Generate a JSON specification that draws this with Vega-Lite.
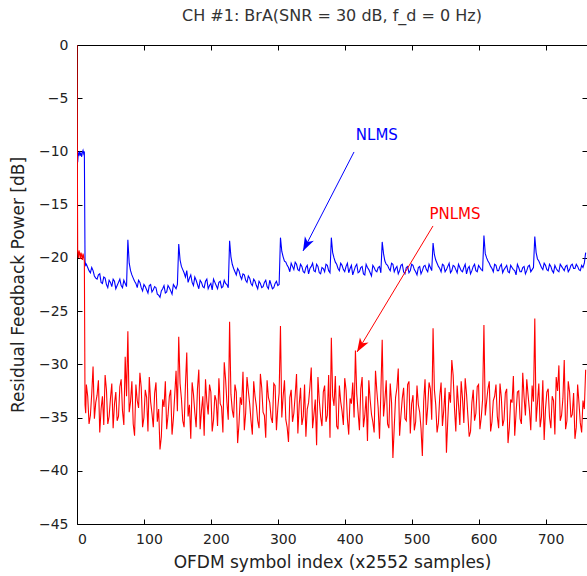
{
  "$schema": "https://vega.github.io/schema/vega-lite/v6.json",
  "width": 510,
  "height": 479,
  "autosize": {"type": "none"},
  "padding": {"left": 77, "top": 45, "right": 0, "bottom": 52},
  "title": {"text": "CH #1: BrA(SNR = 30 dB, f_d = 0 Hz)", "fontSize": 16, "fontWeight": "normal", "color": "#333333", "font": "DejaVu Sans", "offset": 14},
  "config": {
    "view": {"stroke": null},
    "font": "DejaVu Sans",
    "axis": {"grid": false, "domainColor": "#000000", "tickColor": "#000000", "labelColor": "#222222", "titleColor": "#222222", "labelFontSize": 14, "titleFontSize": 17, "titleFontWeight": "normal", "tickSize": -5, "domainWidth": 1, "tickWidth": 1, "labelFlush": false, "labelOverlap": false}
  },
  "datasets": {
    "curves": [
      {"x":0,"NLMS":-10.2,"PNLMS":0},{"x":1,"NLMS":-11.0,"PNLMS":-19.4},{"x":2,"NLMS":-10.1,"PNLMS":-20.0},{"x":3,"NLMS":-10.3,"PNLMS":-19.3},{"x":4,"NLMS":-10.0,"PNLMS":-19.6},{"x":5,"NLMS":-10.4,"PNLMS":-20.1},{"x":6,"NLMS":-10.2,"PNLMS":-19.5},{"x":7,"NLMS":-10.5,"PNLMS":-19.8},{"x":8,"NLMS":-10.1,"PNLMS":-20.2},{"x":9,"NLMS":-9.9,"PNLMS":-19.6},{"x":10,"NLMS":-10.2,"PNLMS":-19.9},{"x":11,"NLMS":-10.0,"PNLMS":-20.3},{"x":12,"NLMS":-20.3,"PNLMS":-33.8},{"x":13,"NLMS":-20.7,"PNLMS":-34.6},
      {"x":16,"NLMS":-20.9,"PNLMS":-33.0},{"x":20,"NLMS":-21.4,"PNLMS":-34.8},{"x":24,"NLMS":-21.2,"PNLMS":-30.2},{"x":28,"NLMS":-21.9,"PNLMS":-33.6},{"x":32,"NLMS":-21.6,"PNLMS":-31.5},{"x":36,"NLMS":-22.3,"PNLMS":-34.2},{"x":40,"NLMS":-21.8,"PNLMS":-35.7},{"x":44,"NLMS":-22.5,"PNLMS":-32.4},{"x":48,"NLMS":-22.1,"PNLMS":-34.9},{"x":52,"NLMS":-22.7,"PNLMS":-31.8},{"x":56,"NLMS":-22.2,"PNLMS":-33.7},{"x":60,"NLMS":-22.6,"PNLMS":-35.3},{"x":64,"NLMS":-22.0,"PNLMS":-32.1},{"x":68,"NLMS":-22.8,"PNLMS":-34.4},{"x":72,"NLMS":-22.4,"PNLMS":-29.3},
      {"x":76,"NLMS":-18.3,"PNLMS":-26.9},{"x":80,"NLMS":-21.2,"PNLMS":-33.5},{"x":84,"NLMS":-21.9,"PNLMS":-35.6},{"x":88,"NLMS":-22.4,"PNLMS":-31.9},{"x":92,"NLMS":-22.1,"PNLMS":-34.1},{"x":96,"NLMS":-22.8,"PNLMS":-32.2},{"x":100,"NLMS":-22.5,"PNLMS":-35.0},{"x":104,"NLMS":-23.0,"PNLMS":-33.1},{"x":108,"NLMS":-22.6,"PNLMS":-31.2},{"x":112,"NLMS":-23.2,"PNLMS":-34.6},{"x":116,"NLMS":-22.7,"PNLMS":-32.7},{"x":120,"NLMS":-23.4,"PNLMS":-35.4},{"x":124,"NLMS":-23.7,"PNLMS":-38.0},{"x":128,"NLMS":-22.9,"PNLMS":-33.3},{"x":132,"NLMS":-23.3,"PNLMS":-31.6},{"x":136,"NLMS":-22.6,"PNLMS":-34.8},{"x":140,"NLMS":-23.1,"PNLMS":-32.4},{"x":144,"NLMS":-22.5,"PNLMS":-35.1},{"x":148,"NLMS":-22.9,"PNLMS":-30.6},
      {"x":152,"NLMS":-18.7,"PNLMS":-27.4},{"x":156,"NLMS":-20.8,"PNLMS":-33.2},{"x":160,"NLMS":-21.4,"PNLMS":-35.9},{"x":164,"NLMS":-21.2,"PNLMS":-28.9},{"x":168,"NLMS":-21.9,"PNLMS":-33.8},{"x":172,"NLMS":-22.3,"PNLMS":-31.7},{"x":176,"NLMS":-21.8,"PNLMS":-34.5},{"x":180,"NLMS":-22.5,"PNLMS":-32.3},{"x":184,"NLMS":-22.1,"PNLMS":-36.1},{"x":188,"NLMS":-22.7,"PNLMS":-33.0},{"x":192,"NLMS":-22.2,"PNLMS":-31.4},{"x":196,"NLMS":-22.9,"PNLMS":-34.7},{"x":200,"NLMS":-22.4,"PNLMS":-32.6},{"x":204,"NLMS":-22.0,"PNLMS":-35.2},{"x":208,"NLMS":-22.6,"PNLMS":-33.4},{"x":212,"NLMS":-22.3,"PNLMS":-31.3},{"x":216,"NLMS":-22.8,"PNLMS":-34.0},{"x":220,"NLMS":-22.1,"PNLMS":-29.8},{"x":224,"NLMS":-22.5,"PNLMS":-33.6},
      {"x":228,"NLMS":-18.4,"PNLMS":-26.0},{"x":232,"NLMS":-20.6,"PNLMS":-34.3},{"x":236,"NLMS":-21.3,"PNLMS":-31.9},{"x":240,"NLMS":-21.0,"PNLMS":-37.4},{"x":244,"NLMS":-21.7,"PNLMS":-33.1},{"x":248,"NLMS":-21.5,"PNLMS":-30.7},{"x":252,"NLMS":-22.1,"PNLMS":-34.6},{"x":256,"NLMS":-21.7,"PNLMS":-32.5},{"x":260,"NLMS":-22.4,"PNLMS":-35.3},{"x":264,"NLMS":-22.0,"PNLMS":-31.6},{"x":268,"NLMS":-22.6,"PNLMS":-33.9},{"x":272,"NLMS":-22.2,"PNLMS":-36.0},{"x":276,"NLMS":-22.8,"PNLMS":-32.2},{"x":280,"NLMS":-22.3,"PNLMS":-34.8},{"x":284,"NLMS":-22.7,"PNLMS":-31.5},{"x":288,"NLMS":-22.1,"PNLMS":-33.6},{"x":292,"NLMS":-22.9,"PNLMS":-35.5},{"x":296,"NLMS":-22.4,"PNLMS":-32.0},{"x":300,"NLMS":-22.6,"PNLMS":-34.1},
      {"x":304,"NLMS":-18.1,"PNLMS":-26.4},{"x":308,"NLMS":-19.9,"PNLMS":-33.0},{"x":312,"NLMS":-20.4,"PNLMS":-35.2},{"x":316,"NLMS":-20.9,"PNLMS":-37.3},{"x":320,"NLMS":-20.5,"PNLMS":-32.4},{"x":324,"NLMS":-21.1,"PNLMS":-34.6},{"x":328,"NLMS":-20.6,"PNLMS":-30.9},{"x":332,"NLMS":-21.2,"PNLMS":-33.8},{"x":336,"NLMS":-20.8,"PNLMS":-35.7},{"x":340,"NLMS":-21.4,"PNLMS":-31.9},{"x":344,"NLMS":-20.7,"PNLMS":-34.2},{"x":348,"NLMS":-21.0,"PNLMS":-32.1},{"x":352,"NLMS":-20.5,"PNLMS":-36.0},{"x":356,"NLMS":-21.3,"PNLMS":-33.3},{"x":360,"NLMS":-20.8,"PNLMS":-31.2},{"x":364,"NLMS":-21.5,"PNLMS":-34.9},{"x":368,"NLMS":-21.0,"PNLMS":-32.6},{"x":372,"NLMS":-20.6,"PNLMS":-35.4},{"x":376,"NLMS":-21.2,"PNLMS":-31.0},
      {"x":380,"NLMS":-18.1,"PNLMS":-27.5},{"x":384,"NLMS":-20.0,"PNLMS":-33.9},{"x":388,"NLMS":-20.6,"PNLMS":-35.8},{"x":392,"NLMS":-21.2,"PNLMS":-32.0},{"x":396,"NLMS":-20.7,"PNLMS":-34.4},{"x":400,"NLMS":-21.3,"PNLMS":-31.3},{"x":404,"NLMS":-20.5,"PNLMS":-35.1},{"x":408,"NLMS":-21.0,"PNLMS":-33.2},{"x":412,"NLMS":-21.6,"PNLMS":-31.7},{"x":416,"NLMS":-20.8,"PNLMS":-28.7},{"x":420,"NLMS":-21.4,"PNLMS":-34.5},{"x":424,"NLMS":-20.9,"PNLMS":-32.3},{"x":428,"NLMS":-21.5,"PNLMS":-35.9},{"x":432,"NLMS":-20.6,"PNLMS":-33.0},{"x":436,"NLMS":-21.1,"PNLMS":-31.5},{"x":440,"NLMS":-21.7,"PNLMS":-34.7},{"x":444,"NLMS":-20.9,"PNLMS":-36.4},{"x":448,"NLMS":-21.3,"PNLMS":-32.5},{"x":452,"NLMS":-20.8,"PNLMS":-37.0},
      {"x":456,"NLMS":-18.5,"PNLMS":-27.7},{"x":460,"NLMS":-20.3,"PNLMS":-33.4},{"x":464,"NLMS":-20.7,"PNLMS":-35.6},{"x":468,"NLMS":-21.2,"PNLMS":-31.8},{"x":472,"NLMS":-20.6,"PNLMS":-38.8},{"x":476,"NLMS":-21.0,"PNLMS":-33.1},{"x":480,"NLMS":-21.5,"PNLMS":-30.4},{"x":484,"NLMS":-20.7,"PNLMS":-34.8},{"x":488,"NLMS":-21.3,"PNLMS":-32.2},{"x":492,"NLMS":-20.9,"PNLMS":-35.3},{"x":496,"NLMS":-21.4,"PNLMS":-31.6},{"x":500,"NLMS":-20.6,"PNLMS":-33.7},{"x":504,"NLMS":-21.1,"PNLMS":-36.2},{"x":508,"NLMS":-21.6,"PNLMS":-32.0},{"x":512,"NLMS":-20.8,"PNLMS":-34.5},{"x":516,"NLMS":-21.2,"PNLMS":-38.6},{"x":520,"NLMS":-20.7,"PNLMS":-31.4},{"x":524,"NLMS":-21.3,"PNLMS":-34.0},{"x":528,"NLMS":-20.9,"PNLMS":-32.3},
      {"x":532,"NLMS":-18.6,"PNLMS":-26.6},{"x":536,"NLMS":-20.2,"PNLMS":-33.8},{"x":540,"NLMS":-20.8,"PNLMS":-35.5},{"x":544,"NLMS":-21.3,"PNLMS":-31.7},{"x":548,"NLMS":-20.7,"PNLMS":-34.3},{"x":552,"NLMS":-21.1,"PNLMS":-38.3},{"x":556,"NLMS":-20.5,"PNLMS":-32.6},{"x":560,"NLMS":-21.2,"PNLMS":-29.6},{"x":564,"NLMS":-20.8,"PNLMS":-34.1},{"x":568,"NLMS":-21.4,"PNLMS":-32.0},{"x":572,"NLMS":-20.9,"PNLMS":-35.7},{"x":576,"NLMS":-21.3,"PNLMS":-33.2},{"x":580,"NLMS":-20.6,"PNLMS":-31.3},{"x":584,"NLMS":-21.0,"PNLMS":-34.8},{"x":588,"NLMS":-21.5,"PNLMS":-36.3},{"x":592,"NLMS":-20.8,"PNLMS":-32.4},{"x":596,"NLMS":-21.2,"PNLMS":-34.6},{"x":600,"NLMS":-20.7,"PNLMS":-31.9},{"x":604,"NLMS":-21.1,"PNLMS":-35.0},
      {"x":608,"NLMS":-17.9,"PNLMS":-26.3},{"x":612,"NLMS":-20.0,"PNLMS":-33.5},{"x":616,"NLMS":-20.5,"PNLMS":-31.6},{"x":620,"NLMS":-21.0,"PNLMS":-35.4},{"x":624,"NLMS":-20.6,"PNLMS":-33.0},{"x":628,"NLMS":-21.2,"PNLMS":-34.9},{"x":632,"NLMS":-20.8,"PNLMS":-31.8},{"x":636,"NLMS":-21.4,"PNLMS":-35.8},{"x":640,"NLMS":-20.9,"PNLMS":-32.7},{"x":644,"NLMS":-21.3,"PNLMS":-37.4},{"x":648,"NLMS":-20.7,"PNLMS":-33.3},{"x":652,"NLMS":-21.1,"PNLMS":-31.1},{"x":656,"NLMS":-21.6,"PNLMS":-34.6},{"x":660,"NLMS":-20.9,"PNLMS":-32.5},{"x":664,"NLMS":-21.3,"PNLMS":-35.6},{"x":668,"NLMS":-20.8,"PNLMS":-33.1},{"x":672,"NLMS":-21.2,"PNLMS":-31.4},{"x":676,"NLMS":-20.7,"PNLMS":-34.3},{"x":680,"NLMS":-21.1,"PNLMS":-32.0},
      {"x":684,"NLMS":-18.0,"PNLMS":-25.7},{"x":688,"NLMS":-20.1,"PNLMS":-33.6},{"x":692,"NLMS":-20.6,"PNLMS":-35.9},{"x":696,"NLMS":-21.1,"PNLMS":-31.5},{"x":700,"NLMS":-20.7,"PNLMS":-34.2},{"x":704,"NLMS":-21.2,"PNLMS":-32.3},{"x":708,"NLMS":-20.8,"PNLMS":-36.0},{"x":712,"NLMS":-21.4,"PNLMS":-33.4},{"x":716,"NLMS":-21.0,"PNLMS":-31.2},{"x":720,"NLMS":-21.3,"PNLMS":-30.1},{"x":724,"NLMS":-20.8,"PNLMS":-34.8},{"x":728,"NLMS":-21.2,"PNLMS":-29.6},{"x":732,"NLMS":-20.7,"PNLMS":-35.3},{"x":736,"NLMS":-21.1,"PNLMS":-32.6},{"x":740,"NLMS":-20.6,"PNLMS":-34.7},{"x":744,"NLMS":-21.0,"PNLMS":-37.0},{"x":748,"NLMS":-20.8,"PNLMS":-31.9},{"x":752,"NLMS":-21.2,"PNLMS":-35.5},{"x":756,"NLMS":-20.9,"PNLMS":-33.4},{"x":760,"NLMS":-19.5,"PNLMS":-30.5},
      {"x":14,"NLMS":-20.6,"PNLMS":-31.9},{"x":18,"NLMS":-21.2,"PNLMS":-35.6},{"x":22,"NLMS":-20.9,"PNLMS":-32.8},{"x":26,"NLMS":-21.7,"PNLMS":-35.1},{"x":30,"NLMS":-22.0,"PNLMS":-32.9},{"x":34,"NLMS":-21.5,"PNLMS":-36.4},{"x":38,"NLMS":-22.4,"PNLMS":-33.0},{"x":42,"NLMS":-21.9,"PNLMS":-31.0},{"x":46,"NLMS":-22.8,"PNLMS":-35.6},{"x":50,"NLMS":-22.3,"PNLMS":-33.2},{"x":54,"NLMS":-22.0,"PNLMS":-36.0},{"x":58,"NLMS":-22.9,"PNLMS":-32.6},{"x":62,"NLMS":-22.3,"PNLMS":-34.9},{"x":66,"NLMS":-22.6,"PNLMS":-31.4},{"x":70,"NLMS":-22.1,"PNLMS":-35.7},{"x":74,"NLMS":-22.7,"PNLMS":-33.0},
      {"x":78,"NLMS":-20.5,"PNLMS":-34.5},{"x":82,"NLMS":-21.6,"PNLMS":-31.6},{"x":86,"NLMS":-22.2,"PNLMS":-36.7},{"x":90,"NLMS":-22.8,"PNLMS":-33.4},{"x":94,"NLMS":-22.3,"PNLMS":-30.8},{"x":98,"NLMS":-23.1,"PNLMS":-35.9},{"x":102,"NLMS":-22.7,"PNLMS":-32.4},{"x":106,"NLMS":-23.3,"PNLMS":-36.3},{"x":110,"NLMS":-22.5,"PNLMS":-33.5},{"x":114,"NLMS":-23.0,"PNLMS":-35.9},{"x":118,"NLMS":-22.8,"PNLMS":-31.7},{"x":122,"NLMS":-23.5,"PNLMS":-34.2},{"x":126,"NLMS":-23.1,"PNLMS":-36.8},{"x":130,"NLMS":-22.6,"PNLMS":-34.0},{"x":134,"NLMS":-23.2,"PNLMS":-36.1},{"x":138,"NLMS":-22.8,"PNLMS":-33.0},{"x":142,"NLMS":-23.4,"PNLMS":-36.6},{"x":146,"NLMS":-22.7,"PNLMS":-32.9},{"x":150,"NLMS":-22.5,"PNLMS":-34.4},
      {"x":154,"NLMS":-20.2,"PNLMS":-31.8},{"x":158,"NLMS":-21.1,"PNLMS":-35.3},{"x":162,"NLMS":-21.8,"PNLMS":-32.0},{"x":166,"NLMS":-22.3,"PNLMS":-34.9},{"x":170,"NLMS":-21.6,"PNLMS":-37.0},{"x":174,"NLMS":-22.6,"PNLMS":-32.8},{"x":178,"NLMS":-22.1,"PNLMS":-35.9},{"x":182,"NLMS":-22.9,"PNLMS":-30.5},{"x":186,"NLMS":-22.3,"PNLMS":-34.3},{"x":190,"NLMS":-22.8,"PNLMS":-36.7},{"x":194,"NLMS":-22.0,"PNLMS":-33.5},{"x":198,"NLMS":-22.6,"PNLMS":-31.9},{"x":202,"NLMS":-23.0,"PNLMS":-36.3},{"x":206,"NLMS":-22.3,"PNLMS":-32.9},{"x":210,"NLMS":-22.9,"PNLMS":-35.8},{"x":214,"NLMS":-22.2,"PNLMS":-33.7},{"x":218,"NLMS":-22.7,"PNLMS":-36.4},{"x":222,"NLMS":-22.4,"PNLMS":-31.4},{"x":226,"NLMS":-22.8,"PNLMS":-35.2},
      {"x":230,"NLMS":-19.9,"PNLMS":-32.8},{"x":234,"NLMS":-21.0,"PNLMS":-35.0},{"x":238,"NLMS":-21.6,"PNLMS":-32.6},{"x":242,"NLMS":-21.2,"PNLMS":-35.6},{"x":246,"NLMS":-22.0,"PNLMS":-33.8},{"x":250,"NLMS":-21.6,"PNLMS":-36.2},{"x":254,"NLMS":-22.3,"PNLMS":-31.2},{"x":258,"NLMS":-21.9,"PNLMS":-33.7},{"x":262,"NLMS":-22.6,"PNLMS":-36.6},{"x":266,"NLMS":-22.2,"PNLMS":-33.0},{"x":270,"NLMS":-22.9,"PNLMS":-35.3},{"x":274,"NLMS":-22.4,"PNLMS":-30.9},{"x":278,"NLMS":-22.7,"PNLMS":-34.5},{"x":282,"NLMS":-22.1,"PNLMS":-36.9},{"x":286,"NLMS":-22.9,"PNLMS":-33.1},{"x":290,"NLMS":-22.5,"PNLMS":-35.0},{"x":294,"NLMS":-22.8,"PNLMS":-31.8},{"x":298,"NLMS":-22.2,"PNLMS":-36.2},{"x":302,"NLMS":-22.5,"PNLMS":-32.7},
      {"x":306,"NLMS":-19.4,"PNLMS":-35.0},{"x":310,"NLMS":-20.3,"PNLMS":-31.5},{"x":314,"NLMS":-20.7,"PNLMS":-35.9},{"x":318,"NLMS":-21.3,"PNLMS":-33.1},{"x":322,"NLMS":-20.8,"PNLMS":-35.4},{"x":326,"NLMS":-20.4,"PNLMS":-32.9},{"x":330,"NLMS":-21.1,"PNLMS":-36.5},{"x":334,"NLMS":-20.6,"PNLMS":-32.2},{"x":338,"NLMS":-21.3,"PNLMS":-34.9},{"x":342,"NLMS":-20.9,"PNLMS":-36.8},{"x":346,"NLMS":-21.5,"PNLMS":-33.6},{"x":350,"NLMS":-20.8,"PNLMS":-30.3},{"x":354,"NLMS":-21.2,"PNLMS":-34.7},{"x":358,"NLMS":-20.6,"PNLMS":-37.6},{"x":362,"NLMS":-21.4,"PNLMS":-33.4},{"x":366,"NLMS":-20.9,"PNLMS":-35.8},{"x":370,"NLMS":-21.3,"PNLMS":-32.0},{"x":374,"NLMS":-20.7,"PNLMS":-34.8},{"x":378,"NLMS":-21.4,"PNLMS":-36.9},
      {"x":382,"NLMS":-19.5,"PNLMS":-33.0},{"x":386,"NLMS":-20.4,"PNLMS":-31.1},{"x":390,"NLMS":-21.0,"PNLMS":-36.1},{"x":394,"NLMS":-20.5,"PNLMS":-33.5},{"x":398,"NLMS":-21.1,"PNLMS":-35.7},{"x":402,"NLMS":-20.8,"PNLMS":-32.4},{"x":406,"NLMS":-21.4,"PNLMS":-36.6},{"x":410,"NLMS":-20.7,"PNLMS":-33.7},{"x":414,"NLMS":-21.2,"PNLMS":-35.0},{"x":418,"NLMS":-20.6,"PNLMS":-32.8},{"x":422,"NLMS":-21.3,"PNLMS":-36.2},{"x":426,"NLMS":-20.8,"PNLMS":-31.2},{"x":430,"NLMS":-21.6,"PNLMS":-34.8},{"x":434,"NLMS":-20.9,"PNLMS":-37.2},{"x":438,"NLMS":-21.4,"PNLMS":-33.3},{"x":442,"NLMS":-20.7,"PNLMS":-35.4},{"x":446,"NLMS":-21.2,"PNLMS":-30.6},{"x":450,"NLMS":-20.9,"PNLMS":-34.1},{"x":454,"NLMS":-21.4,"PNLMS":-32.7},
      {"x":458,"NLMS":-19.6,"PNLMS":-34.9},{"x":462,"NLMS":-20.6,"PNLMS":-31.5},{"x":466,"NLMS":-21.0,"PNLMS":-36.0},{"x":470,"NLMS":-20.5,"PNLMS":-33.6},{"x":474,"NLMS":-21.3,"PNLMS":-35.9},{"x":478,"NLMS":-20.8,"PNLMS":-32.2},{"x":482,"NLMS":-21.2,"PNLMS":-36.7},{"x":486,"NLMS":-20.6,"PNLMS":-33.2},{"x":490,"NLMS":-21.5,"PNLMS":-35.1},{"x":494,"NLMS":-20.8,"PNLMS":-31.9},{"x":498,"NLMS":-21.2,"PNLMS":-36.5},{"x":502,"NLMS":-20.7,"PNLMS":-32.9},{"x":506,"NLMS":-21.3,"PNLMS":-35.4},{"x":510,"NLMS":-20.9,"PNLMS":-33.8},{"x":514,"NLMS":-21.5,"PNLMS":-36.0},{"x":518,"NLMS":-20.8,"PNLMS":-33.5},{"x":522,"NLMS":-21.1,"PNLMS":-35.7},{"x":526,"NLMS":-20.6,"PNLMS":-31.7},{"x":530,"NLMS":-21.2,"PNLMS":-35.2},
      {"x":534,"NLMS":-19.7,"PNLMS":-32.4},{"x":538,"NLMS":-20.5,"PNLMS":-36.4},{"x":542,"NLMS":-21.0,"PNLMS":-33.0},{"x":546,"NLMS":-20.6,"PNLMS":-35.8},{"x":550,"NLMS":-21.3,"PNLMS":-32.2},{"x":554,"NLMS":-20.8,"PNLMS":-35.2},{"x":558,"NLMS":-21.4,"PNLMS":-33.6},{"x":562,"NLMS":-20.7,"PNLMS":-31.0},{"x":566,"NLMS":-21.1,"PNLMS":-36.3},{"x":570,"NLMS":-20.6,"PNLMS":-33.8},{"x":574,"NLMS":-21.2,"PNLMS":-31.6},{"x":578,"NLMS":-20.9,"PNLMS":-35.5},{"x":582,"NLMS":-21.5,"PNLMS":-32.8},{"x":586,"NLMS":-20.8,"PNLMS":-36.8},{"x":590,"NLMS":-21.2,"PNLMS":-33.6},{"x":594,"NLMS":-20.6,"PNLMS":-35.3},{"x":598,"NLMS":-21.3,"PNLMS":-32.1},{"x":602,"NLMS":-20.9,"PNLMS":-36.1},{"x":606,"NLMS":-21.2,"PNLMS":-33.3},
      {"x":610,"NLMS":-19.6,"PNLMS":-34.8},{"x":614,"NLMS":-20.3,"PNLMS":-32.3},{"x":618,"NLMS":-20.8,"PNLMS":-36.3},{"x":622,"NLMS":-21.3,"PNLMS":-33.4},{"x":626,"NLMS":-20.7,"PNLMS":-31.9},{"x":630,"NLMS":-21.2,"PNLMS":-36.0},{"x":634,"NLMS":-20.6,"PNLMS":-33.1},{"x":638,"NLMS":-21.1,"PNLMS":-35.2},{"x":642,"NLMS":-20.7,"PNLMS":-32.3},{"x":646,"NLMS":-21.4,"PNLMS":-35.9},{"x":650,"NLMS":-20.9,"PNLMS":-33.6},{"x":654,"NLMS":-21.2,"PNLMS":-36.7},{"x":658,"NLMS":-20.6,"PNLMS":-32.6},{"x":662,"NLMS":-21.3,"PNLMS":-35.1},{"x":666,"NLMS":-20.9,"PNLMS":-30.8},{"x":670,"NLMS":-21.5,"PNLMS":-34.8},{"x":674,"NLMS":-20.8,"PNLMS":-32.9},{"x":678,"NLMS":-21.3,"PNLMS":-36.2},{"x":682,"NLMS":-20.9,"PNLMS":-33.5},
      {"x":686,"NLMS":-19.5,"PNLMS":-35.4},{"x":690,"NLMS":-20.3,"PNLMS":-31.8},{"x":694,"NLMS":-20.9,"PNLMS":-34.9},{"x":698,"NLMS":-20.5,"PNLMS":-37.1},{"x":702,"NLMS":-21.1,"PNLMS":-32.6},{"x":706,"NLMS":-20.6,"PNLMS":-35.0},{"x":710,"NLMS":-21.2,"PNLMS":-33.0},{"x":714,"NLMS":-20.7,"PNLMS":-36.6},{"x":718,"NLMS":-21.2,"PNLMS":-32.5},{"x":722,"NLMS":-20.6,"PNLMS":-35.3},{"x":726,"NLMS":-21.0,"PNLMS":-33.2},{"x":730,"NLMS":-20.8,"PNLMS":-36.1},{"x":734,"NLMS":-21.3,"PNLMS":-31.6},{"x":738,"NLMS":-20.7,"PNLMS":-35.0},{"x":742,"NLMS":-21.0,"PNLMS":-32.7},{"x":746,"NLMS":-20.6,"PNLMS":-35.9},{"x":750,"NLMS":-21.1,"PNLMS":-33.6},{"x":754,"NLMS":-20.7,"PNLMS":-36.4},{"x":758,"NLMS":-20.5,"PNLMS":-34.2}
    ],
    "arrows": [
      {"series": "NLMS", "x1": 413.9, "y1": -10.05, "x2": 337.7, "y2": -19.35},
      {"series": "PNLMS", "x1": 531.9, "y1": -17.0, "x2": 418.4, "y2": -28.84}
    ],
    "labels": [
      {"series": "NLMS", "x": 448, "y": -8.46},
      {"series": "PNLMS", "x": 564.8, "y": -15.88}
    ]
  },
  "layer": [
    {
      "data": {"name": "curves"},
      "transform": [{"fold": ["NLMS", "PNLMS"], "as": ["series", "value"]}],
      "mark": {"type": "line", "strokeWidth": 1.1, "clip": true},
      "encoding": {
        "x": {"field": "x", "type": "quantitative", "scale": {"domain": [0, 762], "nice": false, "zero": false},
              "axis": {"orient": "bottom", "values": [0, 100, 200, 300, 400, 500, 600, 700], "labelPadding": 13, "labelOffset": 5, "title": "OFDM symbol index (x2552 samples)", "titlePadding": 8}},
        "y": {"field": "value", "type": "quantitative", "scale": {"domain": [-45, 0], "nice": false, "zero": false},
              "axis": {"orient": "left", "values": [-45, -40, -35, -30, -25, -20, -15, -10, -5, 0], "labelPadding": 14, "title": "Residual Feedback Power [dB]", "titlePadding": 11}},
        "color": {"field": "series", "type": "nominal", "scale": {"domain": ["NLMS", "PNLMS"], "range": ["#0000ff", "#ff0000"]}, "legend": null}
      }
    },
    {
      "data": {"name": "arrows"},
      "mark": {"type": "rule", "strokeWidth": 1},
      "encoding": {
        "x": {"field": "x1", "type": "quantitative", "scale": {"domain": [0, 762], "nice": false, "zero": false},
              "axis": {"orient": "top", "values": [0, 100, 200, 300, 400, 500, 600, 700], "labels": false, "title": null}},
        "y": {"field": "y1", "type": "quantitative", "scale": {"domain": [-45, 0], "nice": false, "zero": false},
              "axis": {"orient": "right", "values": [-45, -40, -35, -30, -25, -20, -15, -10, -5, 0], "labels": false, "title": null}},
        "x2": {"field": "x2"},
        "y2": {"field": "y2"},
        "color": {"field": "series", "type": "nominal", "scale": {"domain": ["NLMS", "PNLMS"], "range": ["#0000ff", "#ff0000"]}, "legend": null}
      }
    },
    {
      "data": {"name": "arrows"},
      "mark": {"type": "point", "filled": true, "opacity": 1, "strokeWidth": 0, "shape": "M0,0L-0.36,1L0,0.72L0.36,1Z", "size": 784},
      "encoding": {
        "x": {"field": "x2", "type": "quantitative", "scale": {"domain": [0, 762], "nice": false, "zero": false}, "axis": null},
        "y": {"field": "y2", "type": "quantitative", "scale": {"domain": [-45, 0], "nice": false, "zero": false}, "axis": null},
        "angle": {"field": "series", "type": "nominal", "scale": {"domain": ["NLMS", "PNLMS"], "range": [207, 211]}, "legend": null},
        "color": {"field": "series", "type": "nominal", "scale": {"domain": ["NLMS", "PNLMS"], "range": ["#0000ff", "#ff0000"]}, "legend": null}
      }
    },
    {
      "data": {"name": "labels"},
      "mark": {"type": "text", "fontSize": 15, "align": "center", "baseline": "middle"},
      "encoding": {
        "x": {"field": "x", "type": "quantitative", "scale": {"domain": [0, 762], "nice": false, "zero": false}, "axis": null},
        "y": {"field": "y", "type": "quantitative", "scale": {"domain": [-45, 0], "nice": false, "zero": false}, "axis": null},
        "text": {"field": "series"},
        "color": {"field": "series", "type": "nominal", "scale": {"domain": ["NLMS", "PNLMS"], "range": ["#0000ff", "#ff0000"]}, "legend": null}
      }
    }
  ],
  "resolve": {"axis": {"x": "independent", "y": "independent"}}
}
